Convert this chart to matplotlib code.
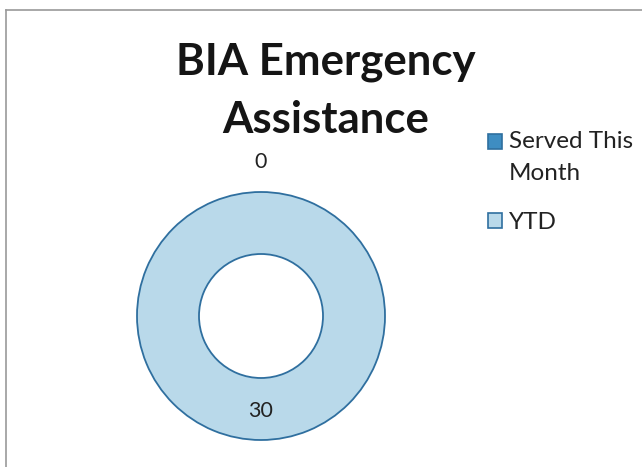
import matplotlib
matplotlib.use("Agg")
import matplotlib.pyplot as plt
from matplotlib.lines import Line2D
from matplotlib.patches import Rectangle
from matplotlib.legend_handler import HandlerPatch
import numpy as np

plt.rcParams["font.family"] = ["Lato", "DejaVu Sans"]

# --- data -----------------------------------------------------------------
categories = ["Served This\nMonth", "YTD"]
values = [0, 30]
label_text = ["0", "30"]

COLOURS = ["#3E8DC2", "#B9D9EA"]
EDGE = "#2F6F9F"

W, H = 642, 467
fig = plt.figure(figsize=(W / 100, H / 100), dpi=100)
fig.patch.set_facecolor("white")

# donut: centre (261, 316) px, outer radius 124 px
cx, cy, r = 261, 316, 124
ax = fig.add_axes([(cx - r) / W, (H - cy - r) / H, 2 * r / W, 2 * r / H])
wedges, _ = ax.pie(values, colors=COLOURS, startangle=90, counterclock=False,
                   wedgeprops=dict(width=0.5, edgecolor=EDGE, linewidth=1.3))
for w, v in zip(wedges, values):
    if v == 0:
        w.set_linewidth(0)
ax.set_xlim(-1, 1)
ax.set_ylim(-1, 1)
ax.set_aspect("equal")

# data labels: zero slice sits outside, the rest inside the ring
for w, v, txt in zip(wedges, values, label_text):
    ang = np.deg2rad((w.theta1 + w.theta2) / 2)
    dist = 1.24 if v == 0 else 0.77
    ax.text(dist * np.cos(ang), dist * np.sin(ang), txt, ha="center", va="center",
            fontsize=15.5, color="#222222", clip_on=False)

fig.text(326 / W, 1 - 62 / H, "BIA Emergency", ha="center", va="center",
         fontsize=31.5, fontweight="bold", color="#151515")
fig.text(326 / W, 1 - 120 / H, "Assistance", ha="center", va="center",
         fontsize=31.5, fontweight="bold", color="#151515")


def _first_line_square(legend, orig_handle, xdescent, ydescent, width, height, fontsize):
    # Excel puts the key next to the first line of a wrapped label
    return Rectangle((-xdescent, -ydescent + 0.66 * fontsize), width, height)


leg = fig.legend(wedges, categories, loc="upper left",
                 bbox_to_anchor=(476 / W, 1 - 119 / H), frameon=False,
                 fontsize=17.5, handlelength=0.55, handleheight=0.55,
                 handletextpad=0.3, labelspacing=1.15, borderpad=0,
                 handler_map={wedges[0]: HandlerPatch(patch_func=_first_line_square)})
for h in leg.legend_handles:
    h.set_edgecolor(EDGE)
    h.set_linewidth(1.2)
for t in leg.get_texts():
    t.set_linespacing(1.66)
    t.set_color("#222222")

# scanned chart-area border (left and top only)
fig.add_artist(Line2D([6 / W, 6 / W], [0, 1 - 10 / H], transform=fig.transFigure,
                      color="#9a9a9a", lw=1.2))
fig.add_artist(Line2D([6 / W, 1], [1 - 10 / H, 1 - 10 / H], transform=fig.transFigure,
                      color="#9a9a9a", lw=1.2))

fig.savefig("out.png", dpi=100, facecolor="white")
